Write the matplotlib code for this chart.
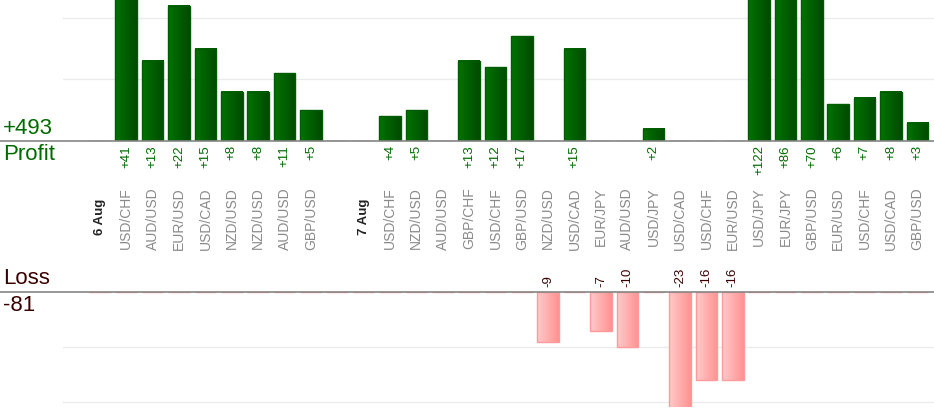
import numpy as np
import matplotlib
matplotlib.use('Agg')
import matplotlib.pyplot as plt
from matplotlib.colors import LinearSegmentedColormap
from matplotlib.lines import Line2D
import matplotlib.transforms as mtransforms

plt.rcParams['font.family'] = ['Liberation Sans', 'DejaVu Sans']

# one slot per column; date slots have no bar
labels = ['6 Aug', 'USD/CHF', 'AUD/USD', 'EUR/USD', 'USD/CAD', 'NZD/USD', 'NZD/USD',
          'AUD/USD', 'GBP/USD', '', '7 Aug', 'USD/CHF', 'NZD/USD', 'AUD/USD',
          'GBP/CHF', 'USD/CHF', 'GBP/USD', 'NZD/USD', 'USD/CAD', 'EUR/JPY',
          'AUD/USD', 'USD/JPY', 'USD/CAD', 'USD/CHF', 'EUR/USD', 'USD/JPY',
          'EUR/JPY', 'GBP/USD', 'EUR/USD', 'USD/CHF', 'USD/CAD', 'GBP/USD']
is_date = [l.endswith('Aug') for l in labels]
profit = [0, 41, 13, 22, 15, 8, 8, 11, 5, 0, 0, 4, 5, 0, 13, 12, 17, 0, 15, 0,
          0, 2, 0, 0, 0, 122, 86, 70, 6, 7, 8, 3]
loss = [0, 0, 0, 0, 0, 0, 0, 0, 0, 0, 0, 0, 0, 0, 0, 0, 0, -9, 0, -7,
        -10, 0, -23, -16, -16, 0, 0, 0, 0, 0, 0, 0]
total_profit = 493
total_loss = -81

W, H = 934, 420
fig = plt.figure(figsize=(W / 100, H / 100), dpi=100)

def px(x0, y0, x1, y1):
    return [x0 / W, 1 - y1 / H, (x1 - x0) / W, (y1 - y0) / H]

ax_p = fig.add_axes(px(63, 0, 934, 141))
ax_l = fig.add_axes(px(63, 292, 934, 407))
ax_p.set_ylim(0, 22.9)
ax_l.set_ylim(-20.9, 0)

x = np.arange(len(labels))
green_cm = LinearSegmentedColormap.from_list('g', ['#007400', '#004a00'])
pink_cm = LinearSegmentedColormap.from_list('p', ['#ffcaca', '#ff9292'])
grad = np.linspace(0, 1, 64).reshape(1, -1)

def grad_bars(ax, vals, cmap, edge):
    lo, hi = ax.get_ylim()
    bars = ax.bar(x, vals, width=0.82, color='none', edgecolor=edge, linewidth=1, zorder=3)
    for b, v in zip(bars, vals):
        if v == 0:
            continue
        bx = b.get_x()
        y0 = max(min(0, v), lo)
        y1 = min(max(0, v), hi)
        ax.imshow(grad, cmap=cmap, aspect='auto', zorder=2,
                  extent=[bx, bx + b.get_width(), y0, y1])

grad_bars(ax_p, profit, green_cm, '#005c00')
grad_bars(ax_l, loss, pink_cm, '#ff9a9a')

for ax in (ax_p, ax_l):
    ax.set_xlim(-1.40, 31.63)
    for s in ax.spines.values():
        s.set_visible(False)
    ax.set_xticks([])
    ax.tick_params(left=False, labelleft=False)
    ax.yaxis.grid(True, color='#ebebeb', linewidth=1)
    ax.set_axisbelow(True)

ax_p.set_ylim(0, 22.9)
ax_p.set_yticks([10, 20])
ax_l.set_ylim(-20.9, 0)
ax_l.set_yticks([-10, -20])

# baselines across the whole width
for yy in (141, 292):
    fig.add_artist(Line2D([0, 1], [1 - yy / H, 1 - yy / H], color='#858585', linewidth=1.2))

tr = mtransforms.blended_transform_factory(ax_p.transData, fig.transFigure)
green = '#006a00'
maroon = '#3a0000'
for i, (lab, p, l, d) in enumerate(zip(labels, profit, loss, is_date)):
    if d:
        ax_p.text(i, 1 - 217 / H, lab, transform=tr, rotation=90, ha='center', va='center',
                  fontsize=9.5, fontweight='bold', color='#222222')
    elif lab:
        ax_p.text(i, 1 - 187 / H, lab, transform=tr, rotation=90, ha='center', va='top',
                  fontsize=10, color='#8a8a8a')
    if p > 0:
        ax_p.text(i, 1 - 145 / H, f'+{p}', transform=tr, rotation=90, ha='center', va='top',
                  fontsize=9.5, color=green)
    if l < 0:
        ax_p.text(i, 1 - 287 / H, f'{l}', transform=tr, rotation=90, ha='center', va='bottom',
                  fontsize=9.5, color=maroon)

fig.text(3 / W, 1 - 139 / H, f'+{total_profit}', fontsize=16, color=green, va='bottom')
fig.text(3 / W, 1 - 144 / H, 'Profit', fontsize=16, color=green, va='top')
fig.text(3 / W, 1 - 289 / H, 'Loss', fontsize=16, color=maroon, va='bottom')
fig.text(3 / W, 1 - 295 / H, f'{total_loss}', fontsize=16, color=maroon, va='top')

fig.savefig('out.png', dpi=100)
